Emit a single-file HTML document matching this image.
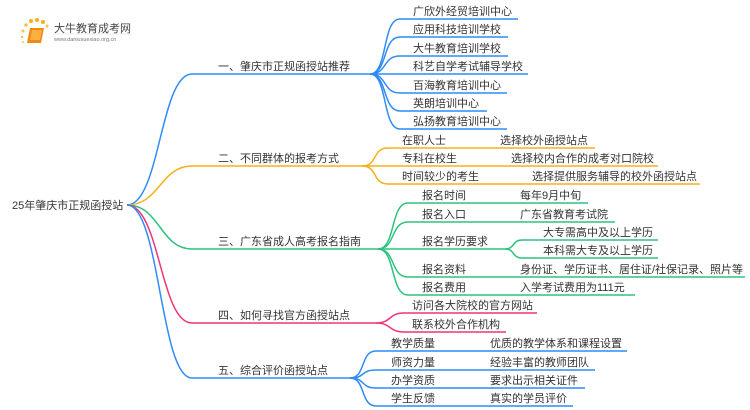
<!DOCTYPE html>
<html><head><meta charset="utf-8"><style>
html,body{margin:0;padding:0;background:#fff;width:750px;height:410px;overflow:hidden}
svg text{font-family:"Liberation Sans","Noto Sans CJK SC",sans-serif;font-size:11px;fill:#333}
</style></head><body>
<svg width="750" height="410" viewBox="0 0 750 410" xmlns="http://www.w3.org/2000/svg">
<g fill="none" stroke-width="1.5">
<path d="M127,205 C160,205 160,74 192,74 L370,74" stroke="#2f8cf5"/>
<path d="M127,205 C160,205 160,166 192,166 L362,166" stroke="#f5b019"/>
<path d="M127,205 C160,205 160,249 192,249 L378,249" stroke="#2ec27e"/>
<path d="M127,205 C160,205 160,323 192,323 L376,323" stroke="#f0337a"/>
<path d="M127,205 C160,205 160,378 192,378 L350,378" stroke="#2f8cf5"/>
<g stroke="#2f8cf5">
<path d="M370,74 C388,74 382,19 400,19 L518,19"/>
<path d="M370,74 C388,74 382,37 400,37 L508,37"/>
<path d="M370,74 C388,74 382,56 400,56 L508,56"/>
<path d="M370,74 L528,74"/>
<path d="M370,74 C388,74 382,93 400,93 L507,93"/>
<path d="M370,74 C388,74 382,111 400,111 L487,111"/>
<path d="M370,74 C388,74 382,129 400,129 L507,129"/>
</g>
<g stroke="#f5b019">
<path d="M362,166 C378,166 372,148 388,148 L595,148"/>
<path d="M362,166 L658,166"/>
<path d="M362,166 C378,166 372,184 388,184 L700,184"/>
</g>
<g stroke="#2ec27e">
<path d="M378,249 C396,249 390,203 408,203 L588,203"/>
<path d="M378,249 C396,249 390,222 408,222 L615,222"/>
<path d="M378,249 L505,249"/>
<path d="M505,249 C515,249 512,240 522,240 L658,240"/>
<path d="M505,249 C515,249 512,258 522,258 L658,258"/>
<path d="M378,249 C396,249 390,277 408,277 L745,277"/>
<path d="M378,249 C396,249 390,295 408,295 L635,295"/>
</g>
<g stroke="#f0337a">
<path d="M376,323 C392,323 388,313 404,313 L537,313"/>
<path d="M376,323 C392,323 388,332 404,332 L506,332"/>
</g>
<g stroke="#2f8cf5">
<path d="M350,378 C366,378 360,351 376,351 L627,351"/>
<path d="M350,378 C366,378 360,370 376,370 L595,370"/>
<path d="M350,378 C366,378 360,388 376,388 L585,388"/>
<path d="M350,378 C366,378 360,406 376,406 L573,406"/>
</g>
</g>
<g>
<circle cx="23" cy="31" r="1.5" fill="#f8c24a"/><circle cx="26" cy="25" r="1.8" fill="#f8c24a"/>
<circle cx="31" cy="21" r="2" fill="#f5b019"/><circle cx="37" cy="20" r="2" fill="#f5b019"/>
<circle cx="43" cy="22" r="2" fill="#f5b019"/><circle cx="47" cy="26" r="1.5" fill="#f8c24a"/>
<circle cx="22" cy="37" r="1.2" fill="#f8c24a"/><circle cx="23" cy="42" r="1" fill="#f8c24a"/>
<path d="M30,28 L44,28 L41,43 L27,43 Z" fill="#f08a12"/>
<path d="M32,30 L42,30 L40,40 L30,40 Z" fill="#fbb040"/>
<text x="54" y="32" style="font-size:11px;fill:#444">大牛教育成考网</text>
<text x="54" y="41" style="font-size:5.5px;fill:#777">www.daniuxuexiao.org.cn</text>
<line x1="54" y1="34" x2="132" y2="34" stroke="#ddd" stroke-width="0.6"/>
</g>
<text x="12" y="209">25年肇庆市正规函授站</text>
<text x="218" y="70">一、肇庆市正规函授站推荐</text>
<text x="218" y="162">二、不同群体的报考方式</text>
<text x="218" y="245">三、广东省成人高考报名指南</text>
<text x="218" y="319">四、如何寻找官方函授站点</text>
<text x="218" y="374">五、综合评价函授站点</text>
<text x="413" y="15">广欣外经贸培训中心</text>
<text x="413" y="33">应用科技培训学校</text>
<text x="413" y="52">大牛教育培训学校</text>
<text x="413" y="70">科艺自学考试辅导学校</text>
<text x="413" y="89">百海教育培训中心</text>
<text x="413" y="107">英朗培训中心</text>
<text x="413" y="125">弘扬教育培训中心</text>
<text x="402" y="144">在职人士</text><text x="500" y="144">选择校外函授站点</text>
<text x="402" y="162">专科在校生</text><text x="511" y="162">选择校内合作的成考对口院校</text>
<text x="402" y="180">时间较少的考生</text><text x="532" y="180">选择提供服务辅导的校外函授站点</text>
<text x="422" y="199">报名时间</text><text x="520" y="199">每年9月中旬</text>
<text x="422" y="218">报名入口</text><text x="520" y="218">广东省教育考试院</text>
<text x="422" y="245">报名学历要求</text>
<text x="543" y="236">大专需高中及以上学历</text>
<text x="543" y="254">本科需大专及以上学历</text>
<text x="422" y="273">报名资料</text><text x="520" y="273">身份证、学历证书、居住证/社保记录、照片等</text>
<text x="422" y="291">报名费用</text><text x="520" y="291">入学考试费用为111元</text>
<text x="412" y="309">访问各大院校的官方网站</text>
<text x="412" y="328">联系校外合作机构</text>
<text x="391" y="347">教学质量</text><text x="490" y="347">优质的教学体系和课程设置</text>
<text x="391" y="366">师资力量</text><text x="490" y="366">经验丰富的教师团队</text>
<text x="391" y="384">办学资质</text><text x="490" y="384">要求出示相关证件</text>
<text x="391" y="402">学生反馈</text><text x="490" y="402">真实的学员评价</text>
</svg>
</body></html>
